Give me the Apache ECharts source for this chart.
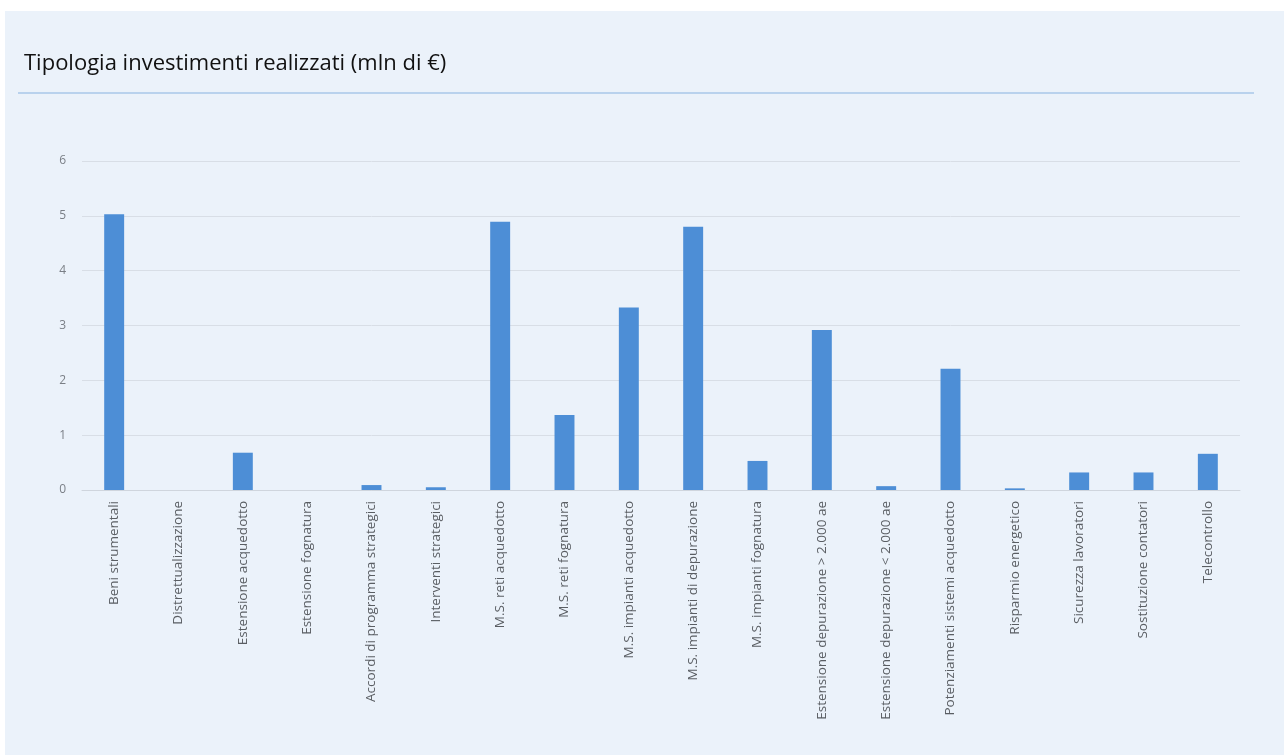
<!DOCTYPE html>
<html>
<head>
<meta charset="utf-8">
<title>Tipologia investimenti realizzati</title>
<script src="https://cdn.jsdelivr.net/npm/echarts@6/dist/echarts.min.js"></script>
<style>
  html, body { margin: 0; padding: 0; background: #ffffff; overflow: hidden; }
  #panel { position: absolute; left: 5px; top: 11px; width: 1279px; height: 744px; background: #ebf2fa; }
  #header { position: absolute; left: 0; top: 0; width: 1284px; height: 110px; }
  /* the plot is printed slightly soft */
  #chart { position: absolute; left: 0; top: 110px; width: 1284px; height: 645px; filter: blur(0.5px); }
</style>
</head>
<body>
<div id="panel"></div>
<div id="header"></div>
<div id="chart"></div>
<script>
// Investment categories (x axis)
const categories = [
  'Beni strumentali',
  'Distrettualizzazione',
  'Estensione acquedotto',
  'Estensione fognatura',
  'Accordi di programma strategici',
  'Interventi strategici',
  'M.S. reti acquedotto',
  'M.S. reti fognatura',
  'M.S. impianti acquedotto',
  'M.S. impianti di depurazione',
  'M.S. impianti fognatura',
  'Estensione depurazione > 2.000 ae',
  'Estensione depurazione < 2.000 ae',
  'Potenziamenti sistemi acquedotto',
  'Risparmio energetico',
  'Sicurezza lavoratori',
  'Sostituzione contatori',
  'Telecontrollo'
];

// Amounts invested, millions of euro
const investimenti = [
  5.03, 0, 0.68, 0, 0.09, 0.05, 4.89, 1.37, 3.33,
  4.80, 0.53, 2.92, 0.07, 2.21, 0.03, 0.32, 0.32, 0.66
];

// Value axis scale
const yMin = 0;
const yMax = 6;
const yStep = 1;

const chartTitle = 'Tipologia investimenti realizzati (mln di €)';

// Heading with its rule underneath
const header = echarts.init(document.getElementById('header'), null, { renderer: 'canvas' });
header.setOption({
  backgroundColor: 'transparent',
  animation: false,
  title: {
    text: chartTitle,
    left: 19,
    top: 48,
    textStyle: {
      fontFamily: 'Open Sans',
      fontSize: 22,
      fontWeight: 'normal',
      color: '#111111'
    }
  },
  graphic: [
    {
      type: 'line',
      shape: { x1: 18, y1: 93, x2: 1254, y2: 93 },
      style: { stroke: '#a9c7e8', lineWidth: 1.5 }
    }
  ]
});

// Bar chart
const chart = echarts.init(document.getElementById('chart'), null, { renderer: 'canvas' });
chart.setOption({
  backgroundColor: 'transparent',
  animation: false,
  grid: {
    left: 82,
    right: 44,
    top: 51,
    bottom: 265,
    containLabel: false
  },
  xAxis: {
    type: 'category',
    data: categories,
    axisTick: { show: false },
    axisLine: { lineStyle: { color: '#cfd5dd', width: 1 } },
    axisLabel: {
      rotate: 90,
      interval: 0,
      margin: 11,
      color: '#5a5e63',
      fontFamily: 'Open Sans',
      fontSize: 13.5
    }
  },
  yAxis: {
    type: 'value',
    min: yMin,
    max: yMax,
    interval: yStep,
    axisLine: { show: false },
    axisTick: { show: false },
    splitLine: { lineStyle: { color: '#d8dee6', width: 1 } },
    axisLabel: {
      margin: 16,
      color: '#7a7f86',
      fontFamily: 'Open Sans',
      fontSize: 12
    }
  },
  series: [
    {
      type: 'bar',
      data: investimenti,
      barWidth: '31%',
      itemStyle: { color: '#4d8ed6' }
    }
  ]
});
</script>
</body>
</html>
